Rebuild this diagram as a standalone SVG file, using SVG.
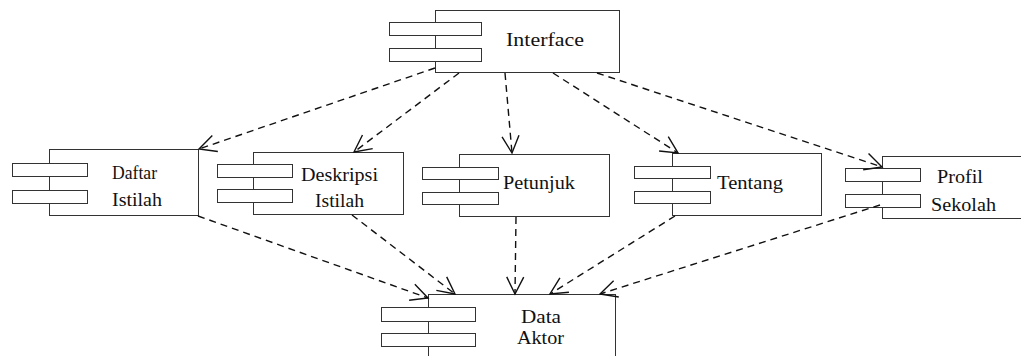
<svg xmlns="http://www.w3.org/2000/svg" width="1021" height="356" viewBox="0 0 1021 356">
  <style>
    .box { fill: #fff; stroke: #333; stroke-width: 1; }
    .lbl { font-family: "Liberation Serif", "Times New Roman", serif; font-size: 18px; fill: #111; }
    .dep { fill: none; stroke: #111; stroke-width: 1.4; stroke-dasharray: 7 5; marker-end: url(#open); }
  </style>
  <defs>
    <!-- open V arrowhead for dependency lines -->
    <marker id="open" markerUnits="userSpaceOnUse" markerWidth="40" markerHeight="40" viewBox="-20 -20 40 40" refX="0" refY="0" orient="auto" overflow="visible">
      <path d="M-17,-8.5 L0,0 L-17,8.5" fill="none" stroke="#111" stroke-width="1.4" stroke-dasharray="none"/>
    </marker>
  </defs>
  <rect width="1021" height="356" fill="#fff"/>

  <g id="interface">
    <rect class="box" x="435.5" y="10.5" width="184" height="62"/>
    <rect class="box" x="389.5" y="22.5" width="92" height="13"/>
    <rect class="box" x="389.5" y="48.5" width="92" height="13"/>
    <text class="lbl" x="506" y="46" textLength="78" lengthAdjust="spacingAndGlyphs">Interface</text>
  </g>

  <g id="daftar-istilah">
    <rect class="box" x="49.5" y="149.5" width="149" height="66"/>
    <rect class="box" x="12.5" y="163.5" width="75" height="13"/>
    <rect class="box" x="12.5" y="190.5" width="75" height="13"/>
    <text class="lbl" x="112" y="179" textLength="45" lengthAdjust="spacingAndGlyphs">Daftar</text>
    <text class="lbl" x="112" y="206" textLength="50" lengthAdjust="spacingAndGlyphs">Istilah</text>
  </g>

  <g id="deskripsi-istilah">
    <rect class="box" x="253.5" y="152.5" width="150" height="62"/>
    <rect class="box" x="217.5" y="164.5" width="75" height="13"/>
    <rect class="box" x="217.5" y="189.5" width="75" height="13"/>
    <text class="lbl" x="301" y="181" textLength="77" lengthAdjust="spacingAndGlyphs">Deskripsi</text>
    <text class="lbl" x="315" y="207" textLength="49" lengthAdjust="spacingAndGlyphs">Istilah</text>
  </g>

  <g id="petunjuk">
    <rect class="box" x="459.5" y="154.5" width="150" height="62"/>
    <rect class="box" x="422.5" y="167.5" width="76" height="12"/>
    <rect class="box" x="422.5" y="192.5" width="76" height="12"/>
    <text class="lbl" x="503" y="189" textLength="72" lengthAdjust="spacingAndGlyphs">Petunjuk</text>
  </g>

  <g id="tentang">
    <rect class="box" x="672.5" y="153.5" width="149" height="62"/>
    <rect class="box" x="634.5" y="166.5" width="76" height="12"/>
    <rect class="box" x="634.5" y="191.5" width="76" height="12"/>
    <text class="lbl" x="717" y="189" textLength="66" lengthAdjust="spacingAndGlyphs">Tentang</text>
  </g>

  <g id="profil-sekolah">
    <rect class="box" x="882.5" y="156.5" width="150" height="62"/>
    <rect class="box" x="845.5" y="168.5" width="75" height="13"/>
    <rect class="box" x="845.5" y="194.5" width="75" height="13"/>
    <text class="lbl" x="937" y="183" textLength="46" lengthAdjust="spacingAndGlyphs">Profil</text>
    <text class="lbl" x="931" y="211" textLength="65" lengthAdjust="spacingAndGlyphs">Sekolah</text>
  </g>

  <g id="data-aktor">
    <rect class="box" x="428.5" y="294.5" width="187" height="80"/>
    <rect class="box" x="381.5" y="307.5" width="94" height="14"/>
    <rect class="box" x="381.5" y="333.5" width="94" height="13"/>
    <text class="lbl" x="521" y="323" textLength="40" lengthAdjust="spacingAndGlyphs">Data</text>
    <text class="lbl" x="517" y="344" textLength="47" lengthAdjust="spacingAndGlyphs">Aktor</text>
  </g>

  <g id="connectors">
    <path class="dep" d="M435,68 L199,149"/>
    <path class="dep" d="M459,73 L354,152"/>
    <path class="dep" d="M505,73 L512,153"/>
    <path class="dep" d="M553,73 L678,153"/>
    <path class="dep" d="M597,73 L882,167"/>
    <path class="dep" d="M198,216 L428,298"/>
    <path class="dep" d="M352,215 L455,294"/>
    <path class="dep" d="M516,217 L515,294"/>
    <path class="dep" d="M675,216 L550,294"/>
    <path class="dep" d="M880,205 L600,294"/>
  </g>
</svg>
